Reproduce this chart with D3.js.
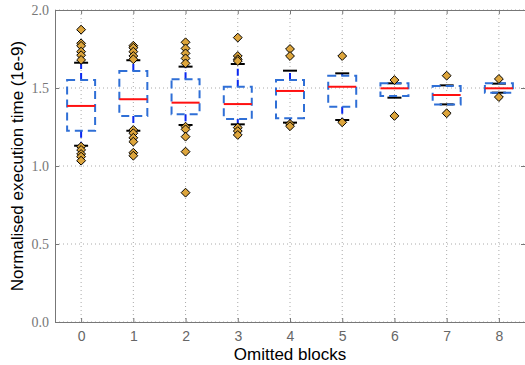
<!DOCTYPE html>
<html>
<head>
<meta charset="utf-8">
<script src="https://cdn.jsdelivr.net/npm/d3@7"></script>
<style>
  body { margin: 0; background: #fff; }
  svg { display: block; }
  .ytick text { font-family: "Liberation Serif", serif; fill: #777; font-size: 14px; }
  .xtick text { font-family: "Liberation Sans", sans-serif; fill: #666; font-size: 14px; }
  .label { font-family: "Liberation Sans", sans-serif; fill: #000; font-size: 17px; }
</style>
</head>
<body>
<div id="chart"></div>
<script>
// omitted blocks on the x axis
const categories = [0, 1, 2, 3, 4, 5, 6, 7, 8];
// box statistics (1e-9 s)
const medians   = [1.385, 1.428, 1.406, 1.397, 1.481, 1.508, 1.498, 1.455, 1.498];
const q1        = [1.226, 1.321, 1.331, 1.301, 1.306, 1.380, 1.449, 1.395, 1.470];
const q3        = [1.551, 1.609, 1.556, 1.508, 1.551, 1.579, 1.530, 1.513, 1.530];
const whiskLow  = [1.130, 1.226, 1.263, 1.267, 1.278, 1.295, 1.438, 1.395, 1.470];
const whiskHigh = [1.662, 1.678, 1.637, 1.654, 1.611, 1.594, 1.530, 1.517, 1.528];
// outliers per category
const fliers = [
  [1.874, 1.786, 1.770, 1.733, 1.710, 1.680, 1.124, 1.103, 1.077, 1.060, 1.034],
  [1.771, 1.758, 1.733, 1.705, 1.684, 1.231, 1.210, 1.181, 1.156, 1.085, 1.066],
  [1.793, 1.754, 1.722, 1.690, 1.658, 1.252, 1.235, 1.188, 1.092, 0.829],
  [1.823, 1.705, 1.684, 1.673, 1.246, 1.224, 1.199],
  [1.750, 1.705, 1.270, 1.255],
  [1.705, 1.280],
  [1.551, 1.321],
  [1.579, 1.338],
  [1.558, 1.442]
];
const yTicks = [0.0, 0.5, 1.0, 1.5, 2.0];

const width = 525, height = 365;
const margin = { top: 10, right: 0, bottom: 43, left: 55 };
const w = width - margin.left - margin.right;
const h = height - margin.top - margin.bottom;

const svg = d3.select("#chart").append("svg")
  .attr("width", width).attr("height", height);
const chart = svg.append("g")
  .attr("transform", "translate(" + margin.left + "," + margin.top + ")");

const x = d3.scaleLinear().domain([-0.5, 8.5]).range([0, w]);
const y = d3.scaleLinear().domain([0, 2]).range([h, 0]);

// grid
chart.append("g").selectAll("line").data(categories).join("line")
  .attr("x1", d => x(d)).attr("x2", d => x(d))
  .attr("y1", 0).attr("y2", h)
  .attr("stroke", "#aaa").attr("stroke-dasharray", "1,3");
chart.append("g").selectAll("line").data(yTicks).join("line")
  .attr("x1", 0).attr("x2", w)
  .attr("y1", d => y(d)).attr("y2", d => y(d))
  .attr("stroke", "#aaa").attr("stroke-dasharray", "1,3");

// axes (ticks inward, mirrored)
chart.append("g").attr("class", "xtick")
  .attr("transform", "translate(0," + h + ")")
  .call(d3.axisBottom(x).tickValues(categories).tickFormat(d3.format("d")).tickSizeInner(-4).tickSizeOuter(0).tickPadding(9));
chart.append("g").attr("class", "ytick")
  .call(d3.axisLeft(y).tickValues(yTicks).tickFormat(d3.format(".1f")).tickSizeInner(-4).tickSizeOuter(0).tickPadding(6));
chart.append("g")
  .call(d3.axisTop(x).tickValues(categories).tickFormat("").tickSizeInner(-4).tickSizeOuter(0));
chart.append("g").attr("transform", "translate(" + w + ",0)")
  .call(d3.axisRight(y).tickValues(yTicks).tickFormat("").tickSizeInner(-4).tickSizeOuter(0));
chart.selectAll(".domain, .tick line").attr("stroke", "#777");
chart.selectAll(".tick text").attr("font-size", null).attr("font-family", null).attr("fill", null);

const boxW = 28, capW = 14;
const stats = categories.map((c, i) => ({
  c, med: medians[i], lo: q1[i], hi: q3[i], wl: whiskLow[i], wh: whiskHigh[i], fl: fliers[i]
}));

const g = chart.append("g");
// whiskers
g.selectAll("line.wup").data(stats).join("line").attr("class", "wup")
  .attr("x1", d => x(d.c)).attr("x2", d => x(d.c))
  .attr("y1", d => y(d.hi)).attr("y2", d => y(d.wh))
  .attr("stroke", "#0a28f0").attr("stroke-width", 2).attr("stroke-dasharray", "7,4");
g.selectAll("line.wlo").data(stats).join("line").attr("class", "wlo")
  .attr("x1", d => x(d.c)).attr("x2", d => x(d.c))
  .attr("y1", d => y(d.lo)).attr("y2", d => y(d.wl))
  .attr("stroke", "#0a28f0").attr("stroke-width", 2).attr("stroke-dasharray", "7,4");
// caps
["wh", "wl"].forEach(k => {
  g.selectAll("line.cap" + k).data(stats).join("line").attr("class", "cap" + k)
    .attr("x1", d => x(d.c) - capW / 2).attr("x2", d => x(d.c) + capW / 2)
    .attr("y1", d => y(d[k])).attr("y2", d => y(d[k]))
    .attr("stroke", "#000").attr("stroke-width", 2);
});
// boxes
g.selectAll("rect").data(stats).join("rect")
  .attr("x", d => x(d.c) - boxW / 2).attr("width", boxW)
  .attr("y", d => y(d.hi)).attr("height", d => y(d.lo) - y(d.hi))
  .attr("fill", "none").attr("stroke", "#2f6fd6").attr("stroke-width", 2)
  .attr("stroke-dasharray", "8,5");
// medians
g.selectAll("line.med").data(stats).join("line").attr("class", "med")
  .attr("x1", d => x(d.c) - boxW / 2).attr("x2", d => x(d.c) + boxW / 2)
  .attr("y1", d => y(d.med)).attr("y2", d => y(d.med))
  .attr("stroke", "#ff1010").attr("stroke-width", 2);
// fliers
const diamond = d3.symbol().type(d3.symbolDiamond2).size(50);
g.selectAll("path.fl").data(stats.flatMap(d => d.fl.map(v => ({ c: d.c, v }))))
  .join("path").attr("class", "fl")
  .attr("transform", d => "translate(" + x(d.c) + "," + y(d.v) + ")")
  .attr("d", diamond)
  .attr("fill", "#dda53c").attr("stroke", "#000").attr("stroke-width", 1);

// labels
svg.append("text").attr("class", "label")
  .attr("x", margin.left + w / 2).attr("y", 360)
  .attr("text-anchor", "middle").text("Omitted blocks");
svg.append("text").attr("class", "label")
  .attr("transform", "translate(23," + (margin.top + h / 2) + ") rotate(-90)")
  .attr("text-anchor", "middle").text("Normalised execution time (1e-9)");
</script>
</body>
</html>
